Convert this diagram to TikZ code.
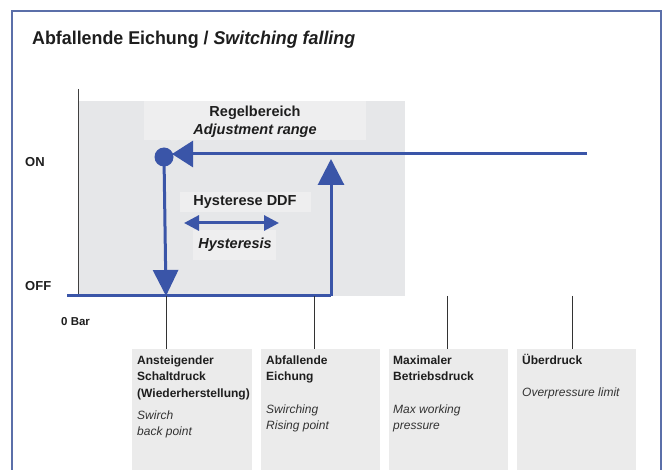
\documentclass[tikz,border=0pt]{standalone}
\usepackage{fontspec}
\setmainfont{Liberation Sans}
\usetikzlibrary{arrows.meta}
\definecolor{cblue}{HTML}{3A55A8}
\definecolor{cframe}{HTML}{5B6FA9}
\definecolor{cgray}{HTML}{E6E7E9}
\definecolor{clight}{HTML}{EEEEEF}
\definecolor{cbox}{HTML}{EBEBEB}
\definecolor{ctext}{HTML}{1E1E1E}
\definecolor{cital}{HTML}{333333}
\begin{document}
\begin{tikzpicture}[x=1bp,y=-1bp,
  bluel/.style={draw=cblue,line width=3bp},
  tickl/.style={draw=black!80,line width=0.9bp},
  lab/.style={inner sep=0,text=ctext,font=\fontsize{13bp}{15bp}\selectfont\bfseries},
  midlab/.style={inner sep=0,text=ctext,font=\fontsize{14.5bp}{17.5bp}\selectfont\bfseries},
  boxb/.style={inner sep=0,anchor=base west,align=left,text=ctext,font=\fontsize{12bp}{16.5bp}\selectfont\bfseries},
  boxi/.style={inner sep=0,anchor=base west,align=left,text=cital,font=\fontsize{12bp}{16.5bp}\selectfont\itshape},
  infobox/.style={fill=cbox,draw=none},
]
\useasboundingbox (0,0) rectangle (662,470);
\fill[white] (0,0) rectangle (662,470);
% frame
\draw[cframe,line width=1.4bp] (12,471) -- (12,11) -- (661,11) -- (661,471);
% title
\node[inner sep=0,anchor=base west,text=ctext] (title) at (32,45)
  {\resizebox{323bp}{\height}{\fontsize{18.5bp}{20bp}\selectfont\bfseries Abfallende Eichung / \itshape Switching falling}};
% gray range area
\fill[cgray] (78,101) rectangle (405,296);
\fill[clight] (144,101) rectangle (366,140);
\node[midlab,align=center] (regel) at (255,122) {Regelbereich\\\itshape Adjustment range};
\fill[clight] (180,192) rectangle (311,212);
\node[midlab] (hyst) at (245,202) {Hysterese DDF};
\fill[clight] (193,230) rectangle (276,260);
\node[midlab,font=\fontsize{14.5bp}{17bp}\selectfont\bfseries\itshape] (hysten) at (235,245) {Hysteresis};
% axis
\coordinate (axtop) at (78,89);
\coordinate (axbot) at (78,296);
\draw[black!75,line width=1bp] (axtop) -- (axbot);
% labels
\node[lab,anchor=base west] (on) at (25,167) {ON};
\node[lab,anchor=base west] (off) at (25,291) {OFF};
\node[lab,anchor=base west,font=\fontsize{11.5bp}{13bp}\selectfont\bfseries] (bar) at (61,326) {0 Bar};
% curve
\coordinate (offstart) at (67,296);
\coordinate (corner) at (331,296);
\coordinate (uptip) at (331,159);
\coordinate (onstart) at (587,154);
\node[circle,fill=cblue,inner sep=0,minimum size=19bp] (dot) at (164,157) {};
\coordinate (downtip) at (166,296);
\draw[bluel] (offstart) -- (corner);
\draw[bluel,-{Triangle[length=26bp,width=26bp]}] (corner) -- (uptip);
\draw[bluel,-{Triangle[length=21bp,width=26bp]}] (onstart) -- (172,154);
\draw[bluel,-{Triangle[length=26bp,width=25bp]}] (dot.center) -- (downtip);
% hysteresis arrow
\coordinate (hl) at (184,223);
\coordinate (hr) at (279,223);
\draw[bluel,{Triangle[length=15bp,width=15bp]}-{Triangle[length=15bp,width=15bp]}] (hl) -- (hr);
% ticks
\foreach \n/\x in {t1/166,t2/314,t3/447,t4/572}{
  \coordinate (\n a) at (\x,296);
  \coordinate (\n b) at (\x,349);
  \draw[tickl] (\n a) -- (\n b);
}
% boxes
\fill[infobox] (132,349) rectangle (252,471);
\fill[infobox] (261,349) rectangle (380,471);
\fill[infobox] (389,349) rectangle (508,471);
\fill[infobox] (517,349) rectangle (636,471);
% (anchor base = baseline of the last line)
\node[boxb] (b1) at (137,397) {Ansteigender\\Schaltdruck\\(Wiederherstellung)};
\node[boxi] (b1i) at (137,435.5) {Swirch\\back point};
\node[boxb] (b2) at (266,380.5) {Abfallende\\Eichung};
\node[boxi] (b2i) at (266,429.5) {Swirching\\Rising point};
\node[boxb] (b3) at (393,380.5) {Maximaler\\Betriebsdruck};
\node[boxi] (b3i) at (393,429.5) {Max working\\pressure};
\node[boxb] (b4) at (522,364) {Überdruck};
\node[boxi] (b4i) at (522,396) {Overpressure limit};
\end{tikzpicture}
\end{document}
